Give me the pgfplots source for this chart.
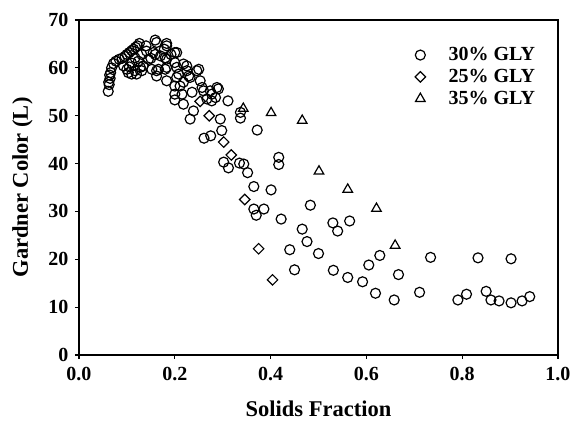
\documentclass[border=0pt]{standalone}
\usepackage{fontspec}
\setmainfont{Liberation Serif}
\usepackage{pgfplots}
\pgfplotsset{compat=1.18}
\begin{document}
\begin{tikzpicture}
\path[use as bounding box] (-79pt,-67pt) rectangle (495pt,355pt);
\begin{axis}[
  scale only axis, width=479pt, height=335pt,
  xmin=0, xmax=1, ymin=0, ymax=70,
  xtick={0,0.2,...,1.0}, ytick={0,10,...,70},
  tick pos=left, tick align=outside,
  major tick length=4pt,
  axis line style={line width=1.3pt},
  tick style={line width=1.2pt, black},
  /pgf/number format/assume math mode=true,
  ticklabel style={font=\fontsize{20}{22}\selectfont\bfseries},
  yticklabel style={xshift=-3pt},
  xticklabel style={yshift=-5pt, /pgf/number format/.cd, fixed, fixed zerofill, precision=1},
  xlabel={Solids Fraction}, ylabel={Gardner Color (L)},
  label style={font=\fontsize{22.5}{25}\selectfont\bfseries},
  xlabel style={yshift=-13pt},
  ylabel style={yshift=9pt},
  legend style={draw=none, fill=none, at={(0.695,0.93)}, anchor=north west,
    font=\fontsize{20}{22}\selectfont\bfseries, row sep=3pt,
    /tikz/every odd column/.append style={column sep=21pt}},
  legend cell align=left,
]
\addplot[only marks, mark=o, mark size=5pt, line width=1.2pt, black] coordinates {
(0.061,55.1)(0.062,57.0)(0.063,56.5)(0.064,58.5)(0.065,57.8)(0.066,59.0)(0.068,60.0)(0.072,60.9)(0.077,61.4)(0.084,61.8)(0.090,62.0)(0.096,62.4)(0.100,62.8)(0.105,63.2)(0.110,63.6)(0.114,63.9)(0.118,64.3)(0.122,64.6)(0.126,65.1)
(0.093,60.4)(0.100,59.7)(0.103,59.0)(0.110,58.7)(0.117,59.4)(0.120,58.7)(0.128,60.1)(0.131,59.4)(0.134,60.4)(0.110,61.0)(0.117,62.1)(0.131,62.8)(0.141,63.5)(0.105,60.2)(0.124,61.4)
(0.159,65.8)(0.162,65.3)(0.183,65.1)(0.183,64.6)(0.155,63.2)(0.159,62.8)(0.178,63.9)(0.180,62.1)(0.200,63.2)(0.204,63.2)(0.200,61.1)(0.183,61.8)(0.183,60.1)(0.162,59.4)(0.152,59.7)(0.166,59.7)(0.180,59.7)(0.204,60.1)(0.218,60.8)(0.225,60.4)(0.225,59.4)(0.208,58.7)(0.229,58.3)(0.232,58.0)(0.246,59.4)(0.250,59.7)(0.162,58.3)(0.183,57.3)(0.204,58.0)(0.211,56.2)(0.200,56.2)(0.218,57.0)(0.253,57.3)(0.257,55.9)(0.236,54.9)(0.215,54.5)(0.200,54.5)(0.200,53.3)(0.218,52.4)(0.239,51.0)(0.232,49.3)(0.260,55.2)(0.274,55.2)(0.277,54.5)(0.288,55.9)(0.291,55.6)(0.285,53.8)(0.267,53.5)(0.277,53.1)(0.311,53.1)(0.295,49.3)(0.298,46.9)(0.261,45.3)(0.275,45.8)(0.140,64.6)(0.145,61.8)(0.170,62.5)(0.192,62.8)(0.150,62.0)
(0.337,50.7)(0.337,49.5)(0.372,47.0)(0.417,41.3)(0.417,39.8)(0.302,40.3)(0.312,39.1)(0.335,40.1)(0.344,39.9)(0.352,38.1)(0.365,35.2)(0.401,34.5)(0.483,31.3)(0.365,30.5)(0.386,30.5)(0.370,29.2)(0.422,28.4)(0.440,22.0)(0.450,17.8)(0.466,26.3)(0.476,23.7)(0.500,21.2)(0.530,27.6)(0.540,25.9)(0.565,28.0)(0.531,17.7)(0.561,16.2)(0.592,15.3)(0.605,18.8)(0.628,20.8)(0.667,16.8)(0.619,12.9)(0.658,11.5)(0.734,20.4)(0.711,13.1)(0.791,11.5)(0.809,12.7)(0.833,20.3)(0.850,13.3)(0.860,11.5)(0.877,11.3)(0.902,20.1)(0.902,10.9)(0.925,11.3)(0.941,12.2)
};
\addlegendentry{30\% GLY}
\addplot[only marks, mark=square, mark options={rotate=45}, mark size=3.7pt, line width=1.2pt, black] coordinates {
(0.253,53.0)(0.272,50.0)(0.302,44.5)(0.318,41.8)(0.346,32.5)(0.375,22.2)(0.404,15.7)
};
\addlegendentry{25\% GLY}
\addplot[only marks, mark=triangle, mark size=5.5pt, line width=1.2pt, black] coordinates {
(0.343,51.5)(0.401,50.6)(0.466,49.0)(0.501,38.4)(0.561,34.6)(0.621,30.6)(0.660,22.9)
};
\addlegendentry{35\% GLY}
\end{axis}
\end{tikzpicture}
\end{document}
